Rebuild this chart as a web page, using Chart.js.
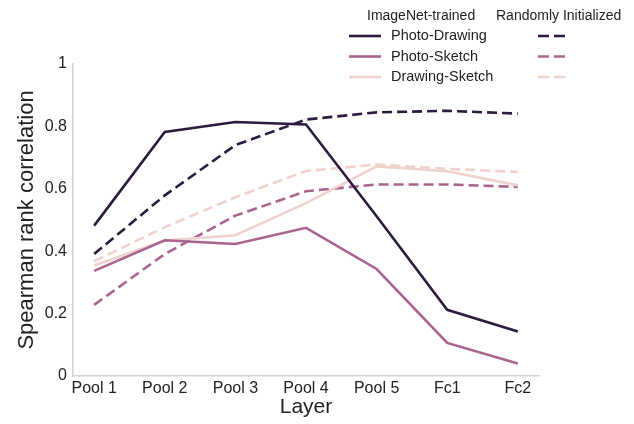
<!DOCTYPE html>
<html>
<head>
<meta charset="utf-8">
<script src="https://cdn.jsdelivr.net/npm/chart.js@4"></script>
<style>
  html, body { margin: 0; padding: 0; background: #fff; }
  canvas { display: block; }
</style>
</head>
<body>
<canvas id="c" width="634" height="424"></canvas>
<script>
// Layers along the x axis
const layers = ['Pool 1', 'Pool 2', 'Pool 3', 'Pool 4', 'Pool 5', 'Fc1', 'Fc2'];
const pairs = ['Photo-Drawing', 'Photo-Sketch', 'Drawing-Sketch'];
const yTicks = [0, 0.2, 0.4, 0.6, 0.8, 1];

// Spearman rank correlation per layer, ImageNet-trained network
const trainedPhotoDrawing  = [0.482, 0.782, 0.814, 0.806, 0.512, 0.212, 0.143];
const trainedPhotoSketch   = [0.337, 0.435, 0.423, 0.475, 0.343, 0.106, 0.040];
const trainedDrawingSketch = [0.354, 0.434, 0.451, 0.554, 0.672, 0.656, 0.611];

// Spearman rank correlation per layer, randomly initialized network
const randomPhotoDrawing  = [0.391, 0.579, 0.740, 0.822, 0.845, 0.850, 0.841];
const randomPhotoSketch   = [0.228, 0.391, 0.514, 0.592, 0.614, 0.614, 0.606];
const randomDrawingSketch = [0.368, 0.477, 0.573, 0.657, 0.678, 0.664, 0.654];

const colors = ['#2c1b3f', '#a9638f', '#f0d2cc'];
const DASH = [10, 5];
const LEGEND_DASH = [11, 5];
const FONT = "'Liberation Sans', Arial, Helvetica, sans-serif";

const toPoints = vals => vals.map((v, i) => ({ x: i, y: v }));

const trained = [trainedPhotoDrawing, trainedPhotoSketch, trainedDrawingSketch];
const random = [randomPhotoDrawing, randomPhotoSketch, randomDrawingSketch];

const datasets = [];
trained.forEach((vals, k) => datasets.push({
  label: pairs[k] + ' (ImageNet-trained)',
  data: toPoints(vals),
  borderColor: colors[k],
  borderWidth: 2.6,
  pointRadius: 0,
  tension: 0,
  fill: false
}));
random.forEach((vals, k) => datasets.push({
  label: pairs[k] + ' (Randomly Initialized)',
  data: toPoints(vals),
  borderColor: colors[k],
  borderWidth: 2.6,
  borderDash: DASH,
  pointRadius: 0,
  tension: 0,
  fill: false
}));
// draw the dashed series under the solid ones
datasets.forEach((d, i) => d.order = i < 3 ? 0 : 1);

// Two-column legend: headers over solid and dashed samples
const legendPlugin = {
  id: 'twoColLegend',
  afterDraw(chart) {
    const ctx = chart.ctx;
    ctx.save();
    ctx.fillStyle = '#222';
    ctx.font = '14px ' + FONT;
    ctx.textBaseline = 'middle';
    ctx.textAlign = 'left';
    ctx.fillText('ImageNet-trained', 367, 16);
    ctx.fillText('Randomly Initialized', 496, 16);
    const rows = [36, 56.5, 77];
    ctx.font = '14.5px ' + FONT;
    pairs.forEach((name, k) => {
      const y = rows[k];
      ctx.strokeStyle = colors[k];
      ctx.lineWidth = 2.6;
      ctx.setLineDash([]);
      ctx.beginPath(); ctx.moveTo(349, y); ctx.lineTo(381, y); ctx.stroke();
      ctx.setLineDash(LEGEND_DASH);
      ctx.beginPath(); ctx.moveTo(538, y); ctx.lineTo(565, y); ctx.stroke();
      ctx.setLineDash([]);
      ctx.fillStyle = '#222';
      ctx.fillText(name, 391, y);
    });
    ctx.restore();
  }
};

new Chart(document.getElementById('c'), {
  type: 'line',
  data: { datasets },
  options: {
    responsive: false,
    animation: false,
    layout: { padding: { top: 64, right: 95, left: 14, bottom: 4 } },
    plugins: { legend: { display: false }, tooltip: { enabled: false } },
    scales: {
      x: {
        type: 'linear',
        min: -0.3,
        max: 6.3,
        afterBuildTicks: s => { s.ticks = layers.map((_, i) => ({ value: i })); },
        afterFit: s => { s.height = 44; },
        grid: { display: false, drawTicks: false },
        border: { display: true, color: '#d4d4d4', width: 1.6 },
        ticks: {
          callback: v => layers[v],
          color: '#222',
          font: { family: FONT, size: 16 },
          padding: 3,
          maxRotation: 0,
          autoSkip: false
        },
        title: {
          display: true,
          text: 'Layer',
          color: '#222',
          font: { family: FONT, size: 21 },
          padding: { top: 0, bottom: 0 }
        }
      },
      y: {
        min: 0,
        max: 1,
        afterBuildTicks: s => { s.ticks = yTicks.map(v => ({ value: v })); },
        afterFit: s => { s.width = 59; },
        grid: { display: false, drawTicks: false },
        border: { display: true, color: '#d4d4d4', width: 1.6 },
        ticks: {
          callback: v => (v === 0 || v === 1) ? String(v) : v.toFixed(1),
          color: '#222',
          font: { family: FONT, size: 16 },
          padding: 6
        },
        title: {
          display: true,
          text: 'Spearman rank correlation',
          color: '#222',
          font: { family: FONT, size: 22 },
          padding: { top: 0, bottom: 0 }
        }
      }
    }
  },
  plugins: [legendPlugin]
});
</script>
</body>
</html>
